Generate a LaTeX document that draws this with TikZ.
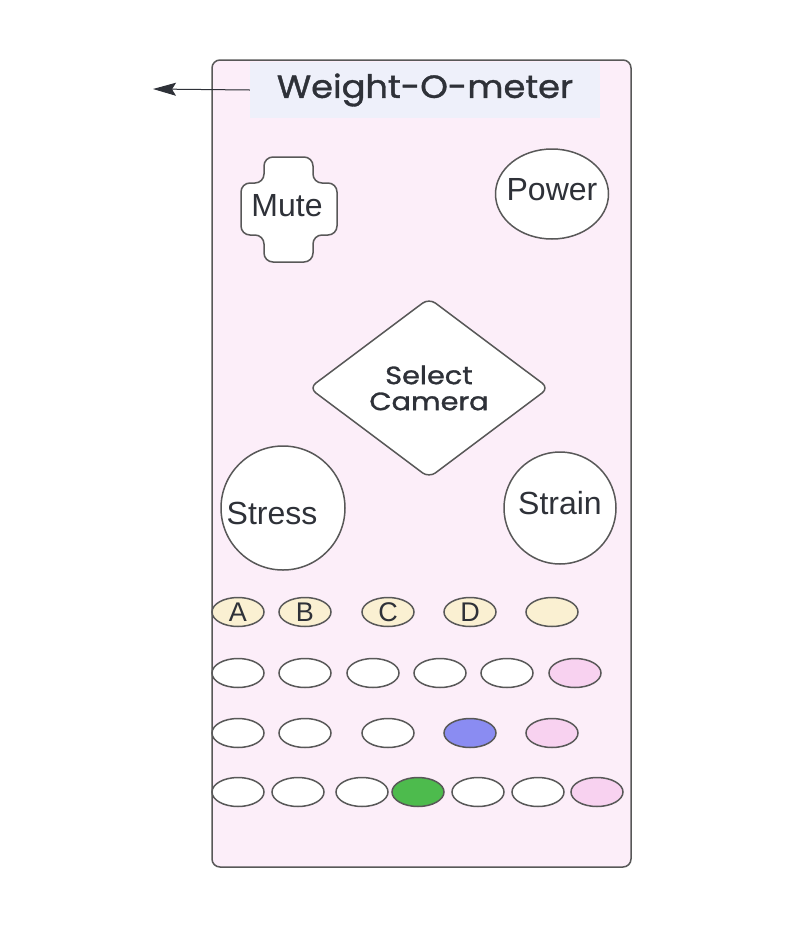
\documentclass[tikz,border=0pt]{standalone}
\usepackage{fontspec}
\setmainfont{Liberation Sans}
\newfontfamily\geofont[FakeBold=1.2]{Poppins}
\usetikzlibrary{shapes.geometric,arrows.meta}
\definecolor{panelbg}{HTML}{FCEEF9}
\definecolor{titlebg}{HTML}{EEF0FA}
\definecolor{edgegray}{HTML}{585858}
\definecolor{txtdark}{HTML}{2E3138}
\definecolor{creamfill}{HTML}{FAF0D2}
\definecolor{pinkfill}{HTML}{F8D2F0}
\definecolor{bluefill}{HTML}{8A8CF2}
\definecolor{greenfill}{HTML}{4DBB4D}
\tikzset{
  btn/.style={draw=edgegray, line width=1.5pt, fill=white, text=txtdark},
  oval/.style={btn, ellipse, minimum width=52pt, minimum height=29pt, inner sep=0pt, font=\fontsize{27}{30}\selectfont},
  bigtxt/.style={font=\fontsize{32}{36}\selectfont, text=txtdark},
}
\begin{document}
\begin{tikzpicture}[x=1pt,y=-1pt]
\useasboundingbox (0,0) rectangle (800,927);
% panel
\draw[draw=edgegray, line width=1.5pt, fill=panelbg, rounded corners=8pt] (212,60) rectangle (631,867);
% title
\node[fill=titlebg, minimum width=350pt, minimum height=56pt, inner sep=0pt, text=txtdark,
  font=\geofont\fontsize{32}{34}\selectfont] (title) at (425,90) {\raisebox{2pt}{\scalebox{1.1}[1]{Weight-O-meter}}};
\coordinate (arrowend) at (153,89);
\draw[-{Stealth[length=23pt,width=13pt,inset=4pt]}, line width=1pt, draw=txtdark, fill=txtdark] (title.west) -- (arrowend);
% mute cross
\draw[btn, rounded corners=9pt] (264,157) -- (313,157) -- (313,183) -- (337,183) -- (337,235) -- (313,235) -- (313,262) -- (264,262) -- (264,235) -- (241,235) -- (241,183) -- (264,183) -- cycle;
\node[bigtxt] (mute) at (287,206) {Mute};
% power
\node[btn, ellipse, minimum width=113pt, minimum height=90pt, inner sep=0pt,
  label={[bigtxt, yshift=4pt]center:Power}] (power) at (552,194) {};
% select camera
\node[btn, diamond, rounded corners=8pt, aspect=1.34, minimum width=240pt, minimum height=180pt, inner sep=0pt,
  align=center, font=\geofont\fontsize{25}{26}\selectfont] (select) at (429,388) {\scalebox{1.15}[1]{Select}\\\scalebox{1.15}[1]{Camera}};
% stress / strain
\node[btn, circle, minimum size=124pt, inner sep=0pt,
  label={[bigtxt, xshift=-11pt, yshift=-5pt]center:Stress}] (stress) at (283,508) {};
\node[btn, circle, minimum size=112pt, inner sep=0pt,
  label={[bigtxt, yshift=5pt]center:Strain}] (strain) at (560,508) {};
% row 1
\node[oval, fill=creamfill] (a) at (238,612) {A};
\node[oval, fill=creamfill] (b) at (305,612) {B};
\node[oval, fill=creamfill] (c) at (388,612) {C};
\node[oval, fill=creamfill] (d) at (470,612) {D};
\node[oval, fill=creamfill] (e) at (552,612) {};
% row 2
\node[oval] (r2a) at (238,673) {};
\node[oval] (r2b) at (305,673) {};
\node[oval] (r2c) at (373,673) {};
\node[oval] (r2d) at (440,673) {};
\node[oval] (r2e) at (507,673) {};
\node[oval, fill=pinkfill] (r2f) at (575,673) {};
% row 3
\node[oval] (r3a) at (238,733) {};
\node[oval] (r3b) at (305,733) {};
\node[oval] (r3c) at (388,733) {};
\node[oval, fill=bluefill] (r3d) at (470,733) {};
\node[oval, fill=pinkfill] (r3e) at (552,733) {};
% row 4
\node[oval] (r4a) at (238,792) {};
\node[oval] (r4b) at (298,792) {};
\node[oval] (r4c) at (362,792) {};
\node[oval, fill=greenfill] (r4d) at (418,792) {};
\node[oval] (r4e) at (478,792) {};
\node[oval] (r4f) at (538,792) {};
\node[oval, fill=pinkfill] (r4g) at (597,792) {};
\end{tikzpicture}
\end{document}
